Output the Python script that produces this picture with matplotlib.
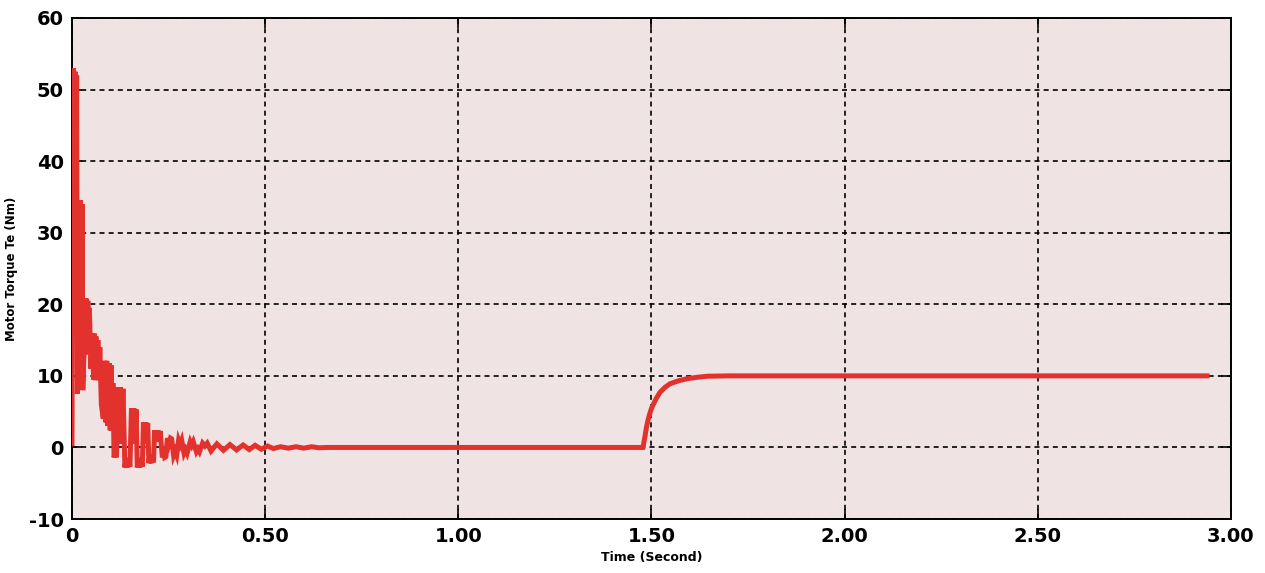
import matplotlib
matplotlib.use("Agg")
import matplotlib.pyplot as plt
import numpy as np

# Start-up transient of the electromagnetic torque: time (s) and torque (N·m)
t_start = [0.000, 0.002, 0.004, 0.006, 0.008, 0.010, 0.012, 0.014, 0.016, 0.018,
           0.020, 0.022, 0.024, 0.026, 0.028, 0.031, 0.033, 0.035, 0.037, 0.039,
           0.041, 0.043, 0.045, 0.049, 0.053, 0.056, 0.058, 0.060, 0.062, 0.065,
           0.067, 0.070, 0.072, 0.076, 0.081, 0.085, 0.088, 0.090, 0.093, 0.096,
           0.099, 0.101, 0.103, 0.106, 0.109, 0.112, 0.115, 0.119, 0.122, 0.125,
           0.128, 0.132, 0.137, 0.140, 0.143, 0.146, 0.150, 0.154, 0.157, 0.160,
           0.163, 0.166, 0.169, 0.172, 0.175, 0.178, 0.182, 0.185, 0.188, 0.191,
           0.194, 0.196, 0.199, 0.202, 0.205, 0.208, 0.211, 0.214, 0.218, 0.222,
           0.225, 0.228, 0.234, 0.237, 0.240, 0.243, 0.247, 0.251, 0.255, 0.258,
           0.263, 0.267, 0.271, 0.276, 0.280, 0.284, 0.290, 0.294, 0.298, 0.306,
           0.310, 0.314, 0.322, 0.326, 0.330, 0.338, 0.344, 0.350, 0.360, 0.375,
           0.392, 0.409, 0.426, 0.443, 0.459, 0.474, 0.490, 0.506, 0.521, 0.540,
           0.560, 0.580, 0.600, 0.620, 0.640, 0.660]
te_start = [0.5, 48.0, 53.0, 30.0, 52.5, 20.0, 52.0, 7.5, 12.0, 34.5,
            14.0, 34.5, 10.0, 34.0, 8.0, 13.0, 20.8, 14.0, 20.8, 13.5,
            20.5, 13.0, 19.5, 11.0, 15.9, 9.5, 15.9, 9.4, 15.5, 9.5,
            15.0, 9.4, 14.0, 6.0, 4.0, 12.1, 3.5, 12.1, 3.0, 11.8,
            2.4, 11.5, 2.4, 9.0, -1.4, -0.5, -1.4, 8.4, 0.5, 8.4,
            1.0, 8.2, -2.8, -1.5, -2.8, -1.5, -2.7, 5.5, 0.5, 5.5,
            1.0, 5.3, -2.8, -1.5, -2.8, -1.5, -2.7, 3.5, 0.5, 3.5,
            1.0, 3.4, -2.2, -1.0, -2.2, -1.2, -2.1, 2.4, 0.8, 2.4,
            0.8, 2.3, -1.4, -0.6, -1.4, -1.3, 1.3, 0.5, 1.3, 1.2,
            -1.1, -0.5, -1.1, 1.0, 0.4, 1.0, -0.8, -0.3, -0.8, 0.8,
            0.3, 0.8, -0.6, -0.2, -0.6, 0.6, 0.2, 0.6, -0.5, 0.5,
            -0.4, 0.4, -0.35, 0.35, -0.3, 0.3, -0.25, 0.2, -0.15, 0.1,
            -0.1, 0.1, -0.1, 0.1, -0.05, 0.0]

# Load torque step applied near t = 1.48 s, settling at 10 N·m
t_load = [1.478, 1.483, 1.487, 1.491, 1.496, 1.501, 1.512, 1.522, 1.535, 1.548,
          1.569, 1.592, 1.618, 1.644, 1.700, 2.938]
te_load = [0.0, 1.5, 2.8, 3.8, 4.8, 5.6, 6.8, 7.7, 8.4, 8.9,
           9.3, 9.6, 9.8, 9.95, 10.0, 10.0]

x_ticks = [0, 0.5, 1.0, 1.5, 2.0, 2.5, 3.0]
x_tick_labels = ["0", "0.50", "1.00", "1.50", "2.00", "2.50", "3.00"]
y_ticks = [-10, 0, 10, 20, 30, 40, 50, 60]

t = np.array(t_start + t_load)
te = np.array(te_start + te_load)

plt.rcParams["lines.scale_dashes"] = False
plt.rcParams["axes.unicode_minus"] = False
fig = plt.figure(figsize=(12.65, 5.73), dpi=100)
ax = fig.add_axes([0.0569, 0.0942, 0.9162, 0.8744])
ax.set_facecolor("#F0E3E3")

ax.plot(t, te, color="#E3322D", linewidth=3.6, solid_joinstyle="miter", zorder=3)

ax.set_xlim(0, 3)
ax.set_ylim(-10, 60)
ax.set_xticks(x_ticks)
ax.set_xticklabels(x_tick_labels)
ax.set_yticks(y_ticks)

ax.grid(True, color="black", linestyle=(0, (3.6, 3.0)), linewidth=1.2)
ax.tick_params(direction="in", length=7, width=1.2, top=True, right=True,
               labelsize=14, pad=6)
for lab in ax.get_xticklabels() + ax.get_yticklabels():
    lab.set_fontweight("bold")
for sp in ax.spines.values():
    sp.set_linewidth(1.4)
    sp.set_color("black")

ax.set_xlabel("Time (Second)", fontsize=9, fontweight="bold", labelpad=3)
ax.set_ylabel("Motor Torque Te (Nm)", fontsize=8.5, fontweight="bold")
ax.yaxis.set_label_coords(-0.047, 0.5)

fig.savefig("out.png", dpi=100, facecolor="white")
